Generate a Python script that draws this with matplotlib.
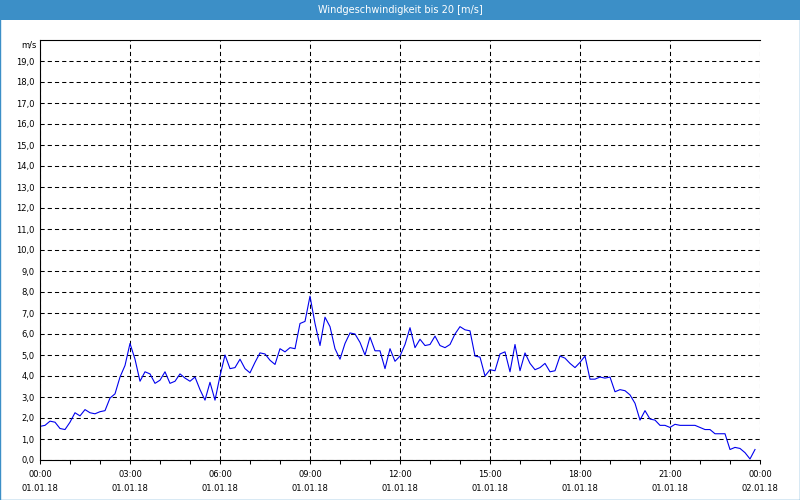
import numpy as np
import matplotlib.pyplot as plt
from matplotlib.patches import Rectangle
from matplotlib.ticker import MultipleLocator

plt.rcParams['lines.scale_dashes'] = False
plt.rcParams['font.family'] = 'DejaVu Sans'

# wind speed [m/s], 10-minute values 01.01.18 00:00 .. 23:50
speed = [1.60, 1.65, 1.85, 1.80, 1.50, 1.45, 1.80, 2.25, 2.10, 2.40,
         2.25, 2.20, 2.30, 2.35, 2.95, 3.15, 3.95, 4.50, 5.55, 4.80,
         3.75, 4.20, 4.10, 3.65, 3.80, 4.20, 3.65, 3.75, 4.10, 3.90,
         3.75, 3.95, 3.35, 2.85, 3.70, 2.85, 4.00, 5.00, 4.35, 4.40,
         4.80, 4.35, 4.15, 4.65, 5.10, 5.05, 4.75, 4.55, 5.30, 5.15,
         5.35, 5.30, 6.50, 6.60, 7.80, 6.50, 5.45, 6.80, 6.35, 5.30,
         4.80, 5.55, 6.05, 6.00, 5.60, 5.00, 5.85, 5.20, 5.20, 4.35,
         5.30, 4.70, 4.95, 5.50, 6.30, 5.35, 5.75, 5.45, 5.50, 5.90,
         5.45, 5.35, 5.50, 6.00, 6.35, 6.20, 6.15, 4.95, 4.90, 4.00,
         4.30, 4.25, 5.05, 5.15, 4.20, 5.50, 4.25, 5.10, 4.60, 4.30,
         4.40, 4.60, 4.20, 4.25, 4.95, 4.85, 4.60, 4.40, 4.65, 4.95,
         3.85, 3.85, 3.95, 3.90, 3.95, 3.25, 3.35, 3.30, 3.10, 2.70,
         1.90, 2.35, 1.95, 1.90, 1.65, 1.65, 1.55, 1.70, 1.65, 1.65,
         1.65, 1.65, 1.55, 1.45, 1.45, 1.25, 1.25, 1.25, 0.50, 0.60,
         0.55, 0.35, 0.05, 0.50]

tick_hours = [0, 3, 6, 9, 12, 15, 18, 21, 24]
tick_labels = ['00:00\n01.01.18', '03:00\n01.01.18', '06:00\n01.01.18',
               '09:00\n01.01.18', '12:00\n01.01.18', '15:00\n01.01.18',
               '18:00\n01.01.18', '21:00\n01.01.18', '00:00\n02.01.18']
y_ticks = list(range(0, 20))

blue = '#3c8fc7'
hours = np.arange(len(speed)) / 6.0

fig = plt.figure(figsize=(8, 5), dpi=100)
fig.patch.set_facecolor('white')
ax = fig.add_axes([0.05, 0.08, 0.90, 0.84])

ax.plot(hours, speed, color='#0000ee', linewidth=0.8)

ax.set_xlim(0, 24)
ax.set_ylim(0, 20)
ax.set_xticks(tick_hours)
ax.set_xticklabels(tick_labels, fontsize=6, linespacing=1.7)
ax.xaxis.set_minor_locator(MultipleLocator(1))
ax.set_yticks(y_ticks)
ax.set_yticklabels([('%.1f' % v).replace('.', ',') for v in y_ticks], fontsize=6)

ax.tick_params(axis='x', which='both', direction='out', length=3, width=0.75, pad=4)
ax.tick_params(axis='y', length=0, pad=4)

ax.grid(True, color='black', linestyle=(0, (3, 2.2)), linewidth=0.75)
for side in ['left', 'bottom', 'top']:
    ax.spines[side].set_linewidth(0.8)
ax.spines['right'].set_visible(False)

ax.text(-0.005, 19.75, 'm/s', transform=ax.get_yaxis_transform(),
        ha='right', va='center', fontsize=6)

# title band
fig.patches.append(Rectangle((0, 0.96), 1, 0.04, transform=fig.transFigure,
                             facecolor=blue, edgecolor='none'))
fig.text(0.5, 0.98, 'Windgeschwindigkeit bis 20 [m/s]', color='white',
         ha='center', va='center', fontsize=7)
fig.patches.append(Rectangle((0.0006, 0.001), 0.9988, 0.998, transform=fig.transFigure,
                             facecolor='none', edgecolor=blue, linewidth=1))

fig.savefig('out.png', dpi=100)
